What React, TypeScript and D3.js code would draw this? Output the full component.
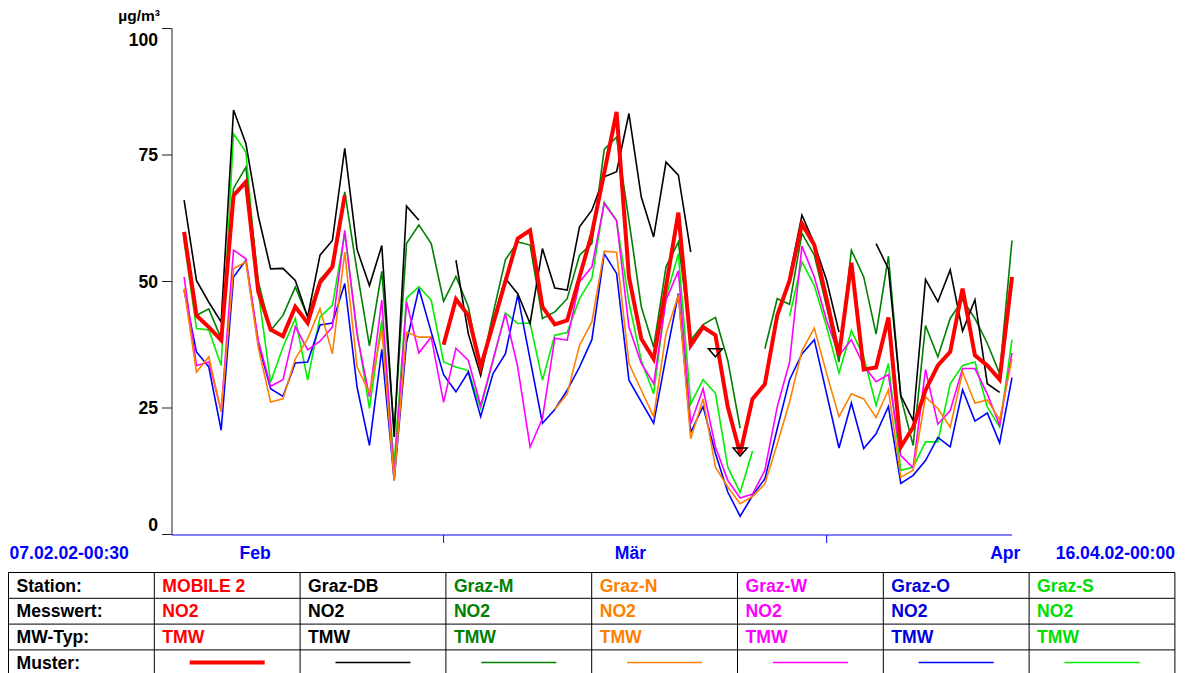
import React from "react";
import * as d3 from "d3";

const N = null;

// stations in legend order
const stations = ["MOBILE 2", "Graz-DB", "Graz-M", "Graz-N", "Graz-W", "Graz-O", "Graz-S"];
const lineColors = ["#ff0000", "#000000", "#008000", "#ff8000", "#ff00ff", "#0000ff", "#00ee00"];
const textColors = ["#ff0000", "#000000", "#008000", "#ff8000", "#ff00ff", "#0000dd", "#00dd00"];
const component = "NO2";
const meanType = "TMW";

// daily means (TMW), 08.02.2002 .. 16.04.2002, µg/m³
const mobile2 = [
  59.8, 43.3, 41.0, 38.4, 67.0, 69.7, 48.0, 40.5, 39.2, 45.0, 41.8, 49.8, 52.9, 67.0,
  N, N, N, N, N, N, N,
  37.5, 46.5, 43.3, 33.1, 41.5, 50.0, 58.5, 60.1, 45.0, 41.5, 42.3, 50.9, 59.5, 71.5,
  83.5, 50.9, 38.7, 34.7, 49.0, 63.6, 37.4, 41.0, 39.4, 25.2, 16.0, 26.8, 29.7, 43.3,
  50.2, 61.4, 57.2, 46.5, 35.4, 53.7, 32.6, 33.0, 42.9, 17.3, 21.2, 28.5, 33.4, 36.1,
  48.6, 35.4, 33.4, 30.6, 50.9,
];
const grazDB = [
  66.1, 50.2, 45.9, 42.0, 83.9, 77.3, 63.0, 52.5, 52.6, 50.2, 43.0, 55.2, 58.1, 76.3,
  56.3, 49.2, 57.1, 19.3, 64.9, 62.1, N, N, 54.2, 39.7, 31.4, 42.3, 50.6, 47.6, 41.7,
  56.5, 48.7, 48.3, 60.8, 64.1, 70.7, 71.7, 83.2, 66.7, 58.8, 73.6, 71.0, 55.8, N,
  36.0, N, 16.4, N, N, N, 51.0, 63.1, 57.5, 50.2, 40.0, N, N, 57.5, 52.5, 27.5, 22.5,
  50.4, 46.0, 52.3, 40.2, 46.4, 29.8, 28.1, N,
];
const grazM = [
  58.5, 43.3, 44.6, 38.7, 68.4, 72.6, 50.0, 40.3, 43.3, 48.9, 43.0, 50.4, 53.0, 67.7,
  52.0, 37.3, 52.0, 20.6, 57.5, 61.2, 57.5, 46.1, 51.0, 45.0, 32.4, 43.6, 54.3, 57.8,
  57.2, 42.7, 44.0, 46.6, 55.2, 57.5, 76.1, 78.5, 62.1, 45.0, 37.0, 52.9, 57.8, 38.4,
  41.5, 42.9, 34.4, 21.0, N, 36.7, 46.6, 45.5, 59.5, 55.2, 45.0, 34.1, 56.2, 50.9,
  39.6, 55.0, 27.2, 17.6, 41.3, 35.1, 42.7, 46.4, 42.7, 37.8, 31.8, 58.1,
];
const grazN = [
  48.6, 32.1, 35.1, 24.2, 52.5, 53.9, 37.0, 26.2, 26.8, 34.7, 38.7, 44.6, 35.7, 55.8,
  33.1, 28.0, 40.5, 10.7, 40.0, 39.0, 39.0, N, N, N, N, N, N, N, N, N,
  24.7, 27.8, 37.4, 42.0, 56.0, 55.8, 33.8, 28.5, 23.3, 39.7, 47.3, 18.9, 26.8, 13.3,
  9.4, 6.1, 7.5, 10.0, 17.9, 26.2, 36.3, 40.8, 31.8, 23.3, 27.8, 26.8, 23.1, 28.6,
  11.3, 12.7, 27.2, 24.9, 21.2, 32.1, 26.0, 26.6, 22.7, 34.7,
];
const grazW = [
  50.9, 33.4, 34.1, 24.5, 56.2, 54.5, 38.4, 29.3, 30.6, 41.1, 36.5, 38.2, 41.0, 60.1,
  39.5, 27.2, 46.3, 11.5, 46.0, 35.9, 39.0, 26.1, 36.8, 34.4, 25.5, 34.5, 43.6, 33.1,
  17.3, 22.9, 38.8, 38.4, 49.9, 52.9, 65.4, 62.0, 41.0, 33.8, 29.8, 46.3, 52.1, 21.9,
  28.8, 17.3, 10.7, 7.2, 8.0, 12.7, 25.2, 34.1, 57.0, 50.9, 42.3, 35.4, 38.5, 33.4,
  30.2, 31.6, 15.6, 13.2, 32.6, 21.8, 24.5, 32.8, 32.8, 27.8, 21.6, 35.9,
];
const grazO = [
  48.3, 36.1, 33.1, 20.6, 50.9, 54.2, 37.8, 28.8, 27.3, 33.9, 34.1, 41.4, 41.8, 49.6,
  29.1, 17.6, 36.6, 10.7, 38.0, 48.6, 40.0, 31.6, 28.2, 32.1, 23.3, 31.8, 35.7, 47.3,
  34.6, 22.0, 24.7, 28.5, 33.1, 38.5, 55.5, 51.6, 30.5, 26.2, 22.0, 35.1, 47.6, 20.2,
  25.3, 16.0, 8.4, 3.6, 7.7, 11.0, 20.9, 30.6, 35.7, 38.5, 27.8, 17.1, 26.0, 17.0,
  19.9, 25.3, 10.1, 11.7, 14.6, 19.2, 17.3, 28.6, 22.4, 24.0, 18.1, 31.0,
];
const grazS = [
  58.0, 40.7, 40.4, 33.4, 79.2, 75.6, 48.0, 30.1, 37.0, 42.7, 30.5, 43.0, 45.3, 59.5,
  40.0, 24.9, 42.3, 14.0, 46.7, 49.0, 46.3, 34.1, 33.1, 32.4, 24.9, 34.4, 43.8, 41.7,
  41.8, 30.5, 39.4, 39.9, 46.6, 50.6, 65.7, 62.1, 45.9, 34.4, 27.8, 46.9, 55.5, 25.8,
  30.6, 27.9, 13.3, 8.3, 16.5, N, N, 43.1, 53.9, 49.2, 41.0, 31.9, 40.3, 35.1, 25.5,
  33.8, 12.7, 13.3, 18.3, 18.3, 29.8, 33.4, 34.1, 25.2, 21.2, 38.5,
];
const series = [mobile2, grazDB, grazM, grazN, grazW, grazO, grazS];

const yTicks = [0, 25, 50, 75, 100];
const monthLabels = ["Feb", "Mär", "Apr"];
const monthLabelDates = [Date.UTC(2002, 1, 13, 18), Date.UTC(2002, 2, 16, 3), Date.UTC(2002, 3, 15, 11)];
const monthTicks = [Date.UTC(2002, 2, 1), Date.UTC(2002, 3, 1)];
const startLabel = "07.02.02-00:30";
const endLabel = "16.04.02-00:00";
const rowLabels = ["Station:", "Messwert:", "MW-Typ:", "Muster:"];

const W = 1191;
const H = 673;
const FONT = "'Liberation Sans', Arial, sans-serif";
const FS = 17.6;
const AXIS_BLUE = "#0000ff";

export default function App() {
  const x = d3
    .scaleUtc()
    .domain([new Date(Date.UTC(2002, 1, 7, 0, 30)), new Date(Date.UTC(2002, 3, 16))])
    .range([172, 1012]);
  const y = d3.scaleLinear().domain([0, 100]).range([534.5, 28.5]);
  const days = d3.utcDay.range(new Date(Date.UTC(2002, 1, 8)), new Date(Date.UTC(2002, 3, 17)));

  const line = d3
    .line<number | null>()
    .defined((v) => v != null)
    .x((_, i) => x(days[i]))
    .y((v) => y(v as number));

  // table grid
  const colX = d3.range(9).map((k) => 8.5 + k * 145.8);
  const rowY = d3.range(5).map((k) => 572.5 + k * 25.8);

  const order = d3.range(series.length).reverse(); // red last, on top

  return (
    <div style={{ position: "absolute", left: 0, top: 0 }}>
      <svg width={W} height={H} style={{ display: "block", background: "#fff" }}>
        <g fontFamily={FONT} fontWeight="bold" fontSize={FS}>
          {/* y axis */}
          <line x1={172} x2={172} y1={y(100)} y2={535} stroke="#222" strokeWidth={1} />
          {yTicks.map((t) => (
            <g key={t}>
              <line x1={162} x2={172} y1={y(t)} y2={y(t)} stroke="#222" strokeWidth={1} />
              <text
                x={158}
                y={t === 100 ? y(t) + 17 : t === 0 ? y(t) - 4 : y(t) + 6}
                textAnchor="end"
                fill="#000"
              >
                {t}
              </text>
            </g>
          ))}
          <text x={160} y={21} textAnchor="end" fill="#000" fontSize={15.5}>
            µg/m³
          </text>

          {/* x axis */}
          <line x1={172} x2={x.range()[1]} y1={535} y2={535} stroke={AXIS_BLUE} strokeWidth={1} />
          {monthTicks.map((d) => (
            <line key={d} x1={x(new Date(d))} x2={x(new Date(d))} y1={535} y2={543} stroke={AXIS_BLUE} />
          ))}
          {monthLabels.map((m, i) => (
            <text key={m} x={x(new Date(monthLabelDates[i]))} y={559} textAnchor="middle" fill={AXIS_BLUE}>
              {m}
            </text>
          ))}
          <text x={9.5} y={559} fill={AXIS_BLUE}>
            {startLabel}
          </text>
          <text x={1175} y={559} textAnchor="end" fill={AXIS_BLUE}>
            {endLabel}
          </text>

          {/* series */}
          {order.map((s) => (
            <path
              key={stations[s]}
              d={line(series[s]) || ""}
              fill="none"
              stroke={lineColors[s]}
              strokeWidth={s === 0 ? 4 : 1.6}
              strokeLinejoin="miter"
            />
          ))}
          {/* isolated values drawn as markers */}
          {order.map((s) =>
            series[s].map((v, i) => {
              const arr = series[s];
              if (v == null) return null;
              const prev = i > 0 ? arr[i - 1] : null;
              const next = i < arr.length - 1 ? arr[i + 1] : null;
              if (prev != null || next != null) return null;
              const cx = x(days[i]);
              const cy = y(v);
              return (
                <path
                  key={`${s}-${i}`}
                  d={`M${cx - 7},${cy - 3.5}L${cx + 7},${cy - 3.5}L${cx},${cy + 4.5}Z`}
                  fill="none"
                  stroke={lineColors[s]}
                  strokeWidth={1.5}
                />
              );
            })
          )}

          {/* legend table */}
          {rowY.map((ry, k) => (
            <line key={`r${k}`} x1={colX[0]} x2={colX[8]} y1={ry} y2={ry} stroke="#000" strokeWidth={1} />
          ))}
          {colX.map((cx, k) => (
            <line key={`c${k}`} x1={cx} x2={cx} y1={rowY[0]} y2={rowY[4]} stroke="#000" strokeWidth={1} />
          ))}
          {rowLabels.map((r, k) => (
            <text key={r} x={colX[0] + 8} y={rowY[k] + 19} fill="#000">
              {r}
            </text>
          ))}
          {stations.map((st, s) => {
            const left = colX[s + 1];
            const mid = (colX[s + 1] + colX[s + 2]) / 2;
            return (
              <g key={st} fill={textColors[s]}>
                <text x={left + 8} y={rowY[0] + 19}>
                  {st}
                </text>
                <text x={left + 8} y={rowY[1] + 19}>
                  {component}
                </text>
                <text x={left + 8} y={rowY[2] + 19}>
                  {meanType}
                </text>
                <line
                  x1={mid - 37.5}
                  x2={mid + 37.5}
                  y1={662.5}
                  y2={662.5}
                  stroke={lineColors[s]}
                  strokeWidth={s === 0 ? 4 : 1.6}
                />
              </g>
            );
          })}
        </g>
      </svg>
    </div>
  );
}
